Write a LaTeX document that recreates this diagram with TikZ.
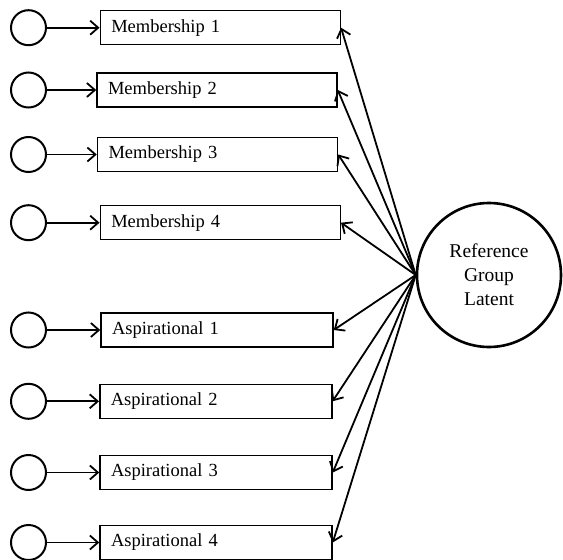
\documentclass[tikz,border=0pt]{standalone}
\usepackage{fontspec}
\setmainfont{Liberation Serif}
\usepackage{tikz}
\usetikzlibrary{arrows.meta}

\tikzset{
  obs/.style={draw, line width=1.5pt, minimum height=34pt, inner xsep=11pt, text width=#1, align=left, font=\fontsize{18.5}{22}\selectfont},
  obs/.default=218pt,
  err/.style={draw, circle, line width=2pt, inner sep=0pt, minimum size=35pt},
  lat/.style={draw, circle, line width=2.6pt, inner sep=0pt, minimum size=144pt, align=center, font=\fontsize{19.5}{24}\selectfont},
  path/.style={line width=1.8pt, -{Straight Barb[length=8pt, width=14pt]}}
}

\begin{document}
\begin{tikzpicture}[x=1pt, y=-1pt]
\useasboundingbox (0,0) rectangle (563,560);

\node[obs] (m1) at (220.3,27.7) {Membership 1};
\node[obs] (m2) at (217,90) {Membership 2};
\node[obs] (m3) at (217.5,154.5) {Membership 3};
\node[obs] (m4) at (220.3,222.7) {Membership 4};
\node[obs=210pt] (a1) at (217,330) {Aspirational 1};
\node[obs=210pt] (a2) at (215.8,401.3) {Aspirational 2};
\node[obs=210pt] (a3) at (216,472.5) {Aspirational 3};
\node[obs=210pt] (a4) at (216,542.5) {Aspirational 4};

\node[err] (e1) at (28.5,27.7) {};
\node[err] (e2) at (28.5,90) {};
\node[err] (e3) at (28.5,154.5) {};
\node[err] (e4) at (28.5,222.7) {};
\node[err] (e5) at (28.5,330) {};
\node[err] (e6) at (28.5,401.3) {};
\node[err] (e7) at (28.5,472.5) {};
\node[err] (e8) at (28.5,542.5) {};

\node[lat] (rg) at (489,275) {Reference\\Group\\Latent};

% error terms
\draw[path] (e1) -- (m1);
\draw[path] (e2) -- (m2);
\draw[path] (e3) -- (m3);
\draw[path] (e4) -- (m4);
\draw[path] (e5) -- (a1);
\draw[path] (e6) -- (a2);
\draw[path] (e7) -- (a3);
\draw[path] (e8) -- (a4);

% loadings
\draw[path] (rg.west) -- (m1.east);
\draw[path] (rg.west) -- (m2.east);
\draw[path] (rg.west) -- (m3.east);
\draw[path] (rg.west) -- (m4.east);
\draw[path] (rg.west) -- (a1.east);
\draw[path] (rg.west) -- (a2.east);
\draw[path] (rg.west) -- (a3.east);
\draw[path] (rg.west) -- (a4.east);

\end{tikzpicture}
\end{document}
